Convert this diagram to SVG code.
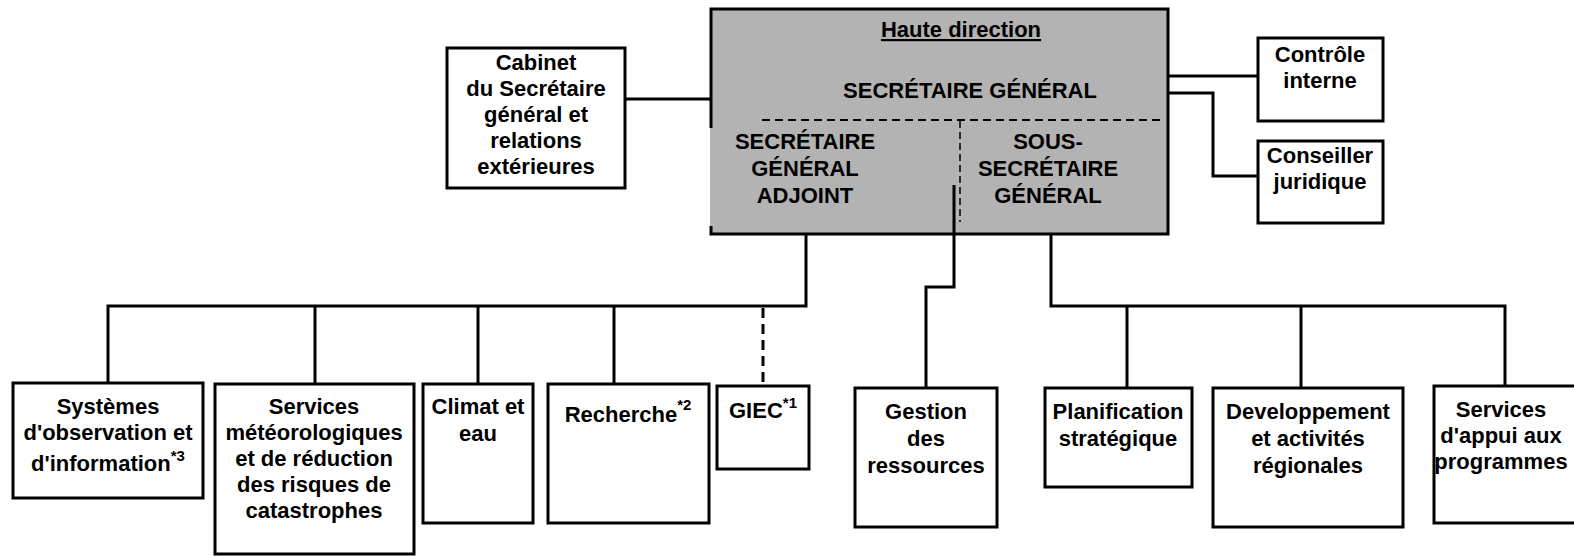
<svg xmlns="http://www.w3.org/2000/svg" width="1574" height="556" viewBox="0 0 1574 556">
<style>
.box{fill:#fff;stroke:#000;stroke-width:3}
.t{font-family:"Liberation Sans",Arial,sans-serif;font-weight:bold;font-size:22px;fill:#000;text-anchor:middle}
.sup{font-size:15px}
.ln{fill:none;stroke:#000;stroke-width:3}
.dash{fill:none;stroke:#000;stroke-width:2;stroke-dasharray:8 5}
</style>
<rect width="1574" height="556" fill="#fff"/>
<g id="connectors">
<path class="ln" d="M625,99 H710"/>
<path class="ln" d="M1168,76 H1258"/>
<path class="ln" d="M1168,93 H1213 V176 H1258"/>
<path class="ln" d="M806,227 V306 H108 V383"/>
<path class="ln" d="M315,306 V384"/>
<path class="ln" d="M478,306 V384"/>
<path class="ln" d="M614,306 V384"/>
<path fill="none" stroke="#000" stroke-width="3" stroke-dasharray="10 6" d="M763,308 V386"/>
<path class="ln" d="M1051,227 V306 H1505 V386"/>
<path class="ln" d="M1127,306 V388"/>
<path class="ln" d="M1301,306 V388"/>
</g>
<g id="haute-direction">
<rect x="710" y="9" width="458" height="225" fill="#b3b3b3"/>
<path class="ln" d="M711,128 V9 H1168 V234 H711 V226"/>
<path class="dash" d="M762,120 H1160"/>
<path fill="none" stroke="#000" stroke-width="1.5" stroke-dasharray="7 4" d="M960,121 V222"/>
<text class="t" x="961" y="37" text-decoration="underline">Haute direction</text>
<text class="t" x="970" y="98">SECRÉTAIRE GÉNÉRAL</text>
<text class="t" x="805" y="149">SECRÉTAIRE</text>
<text class="t" x="805" y="176">GÉNÉRAL</text>
<text class="t" x="805" y="203">ADJOINT</text>
<text class="t" x="1048" y="149">SOUS-</text>
<text class="t" x="1048" y="176">SECRÉTAIRE</text>
<text class="t" x="1048" y="203">GÉNÉRAL</text>
</g>
<g id="gestion-link">
<path class="ln" d="M954,185 V287 H926 V388"/>
</g>
<g id="cabinet">
<rect class="box" x="447" y="48" width="178" height="140"/>
<text class="t" x="536" y="70">Cabinet</text>
<text class="t" x="536" y="96">du Secrétaire</text>
<text class="t" x="536" y="122">général et</text>
<text class="t" x="536" y="148">relations</text>
<text class="t" x="536" y="174">extérieures</text>
</g>
<g id="controle">
<rect class="box" x="1258" y="38" width="125" height="83"/>
<text class="t" x="1320" y="62">Contrôle</text>
<text class="t" x="1320" y="88">interne</text>
</g>
<g id="conseiller">
<rect class="box" x="1258" y="141" width="125" height="82"/>
<text class="t" x="1320" y="163">Conseiller</text>
<text class="t" x="1320" y="189">juridique</text>
</g>
<g id="systemes">
<rect class="box" x="13" y="383" width="190" height="115"/>
<text class="t" x="108" y="414">Systèmes</text>
<text class="t" x="108" y="440">d'observation et</text>
<text class="t" x="108" y="471">d'information<tspan class="sup" dy="-10">*3</tspan></text>
</g>
<g id="services-meteo">
<rect class="box" x="215" y="384" width="199" height="170"/>
<text class="t" x="314" y="414">Services</text>
<text class="t" x="314" y="440">météorologiques</text>
<text class="t" x="314" y="466">et de réduction</text>
<text class="t" x="314" y="492">des risques de</text>
<text class="t" x="314" y="518">catastrophes</text>
</g>
<g id="climat">
<rect class="box" x="423" y="384" width="110" height="139"/>
<text class="t" x="478" y="414">Climat et</text>
<text class="t" x="478" y="441">eau</text>
</g>
<g id="recherche">
<rect class="box" x="548" y="384" width="161" height="139"/>
<text class="t" x="628" y="422">Recherche<tspan class="sup" dy="-12">*2</tspan></text>
</g>
<g id="giec">
<rect class="box" x="717" y="386" width="92" height="83"/>
<text class="t" x="763" y="418">GIEC<tspan class="sup" font-size="13" dy="-10">*1</tspan></text>
</g>
<g id="gestion">
<rect class="box" x="855" y="388" width="142" height="139"/>
<text class="t" x="926" y="419">Gestion</text>
<text class="t" x="926" y="446">des</text>
<text class="t" x="926" y="473">ressources</text>
</g>
<g id="planification">
<rect class="box" x="1045" y="388" width="147" height="99"/>
<text class="t" x="1118" y="419">Planification</text>
<text class="t" x="1118" y="446">stratégique</text>
</g>
<g id="developpement">
<rect class="box" x="1213" y="388" width="190" height="139"/>
<text class="t" x="1308" y="419">Developpement</text>
<text class="t" x="1308" y="446">et activités</text>
<text class="t" x="1308" y="473">régionales</text>
</g>
<g id="appui">
<rect class="box" x="1434" y="386" width="170" height="137"/>
<text class="t" x="1501" y="417">Services</text>
<text class="t" x="1501" y="443">d'appui aux</text>
<text class="t" x="1501" y="469">programmes</text>
</g>
</svg>
